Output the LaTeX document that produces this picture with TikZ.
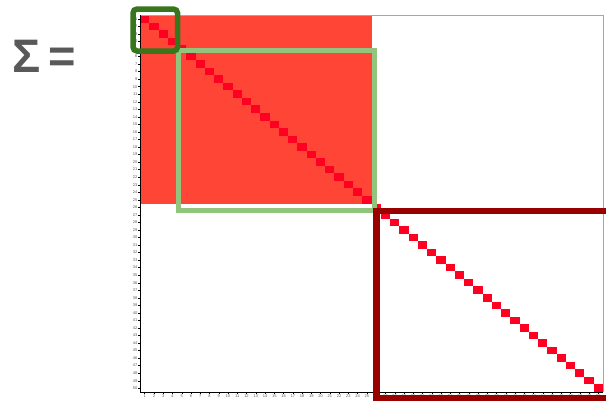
\documentclass[tikz,border=0pt]{standalone}
\usepackage{fontspec}
\setsansfont{Liberation Sans}
\usetikzlibrary{calc}
\definecolor{blockred}{HTML}{FF4536}
\definecolor{diagred}{HTML}{FF0022}
\definecolor{boxdkgreen}{HTML}{38761D}
\definecolor{boxltgreen}{HTML}{93C47D}
\definecolor{boxdkred}{HTML}{990000}
\definecolor{sigmagray}{HTML}{595959}
\tikzset{
  covblock/.style={fill=blockred,draw=none},
  covdiag/.style={fill=diagred,draw=none},
  covaxis/.style={line width=0.9pt,draw=black},
  covframe/.style={line width=0.6pt,draw=gray!70},
  covtick/.style={line width=0.3pt,draw=black},
  covticklabel/.style={font=\sffamily\fontsize{4}{4}\selectfont,text=gray!70!black,inner sep=0.6pt},
  covbox/.style={line width=5.5pt},
  covsigma/.style={font=\sffamily\bfseries\fontsize{47}{47}\selectfont,text=sigmagray,inner sep=0pt}
}

\begin{document}
\begin{tikzpicture}[x=1pt,y=-1pt]
  \useasboundingbox (0,0) rectangle (606,400);
  \clip (0,0) rectangle (606,400);
  \def\cw{9.26}\def\ch{7.54}
  \node[covsigma,anchor=base west] (sigmalbl) at (12,72) {Σ\,=};
  % correlated block and the diagonal
  \fill[covblock] (140,15) rectangle (371.5,203.5);
  \foreach \i in {1,...,50}
    \fill[covdiag] ({140+(\i-1)*\cw},{15+(\i-1)*\ch}) rectangle ++(\cw,\ch);
  % axes
  \draw[covframe] (140,15) -- (603,15) -- (603,392);
  \draw[covaxis] (140,15) -- (140,392) -- (603,392);
  \foreach \i in {1,...,50} {
    \draw[covtick] (140,{15+(\i-0.5)*\ch}) -- ++(-2,0) node[covticklabel,left] (rl\i) {\i};
    \draw[covtick] ({140+(\i-0.5)*\cw},392) -- ++(0,2) node[covticklabel,below] (cl\i) {\i};
  }
  % highlighted blocks
  \draw[covbox,boxltgreen] (178.5,50.5) rectangle (374.5,210.5);
  \draw[covbox,boxdkgreen,rounded corners=4pt] (133,9) rectangle (177.5,51);
  \draw[covbox,boxdkred,line width=6.5pt] (376.5,211) rectangle (625,398.5);
\end{tikzpicture}
\end{document}
